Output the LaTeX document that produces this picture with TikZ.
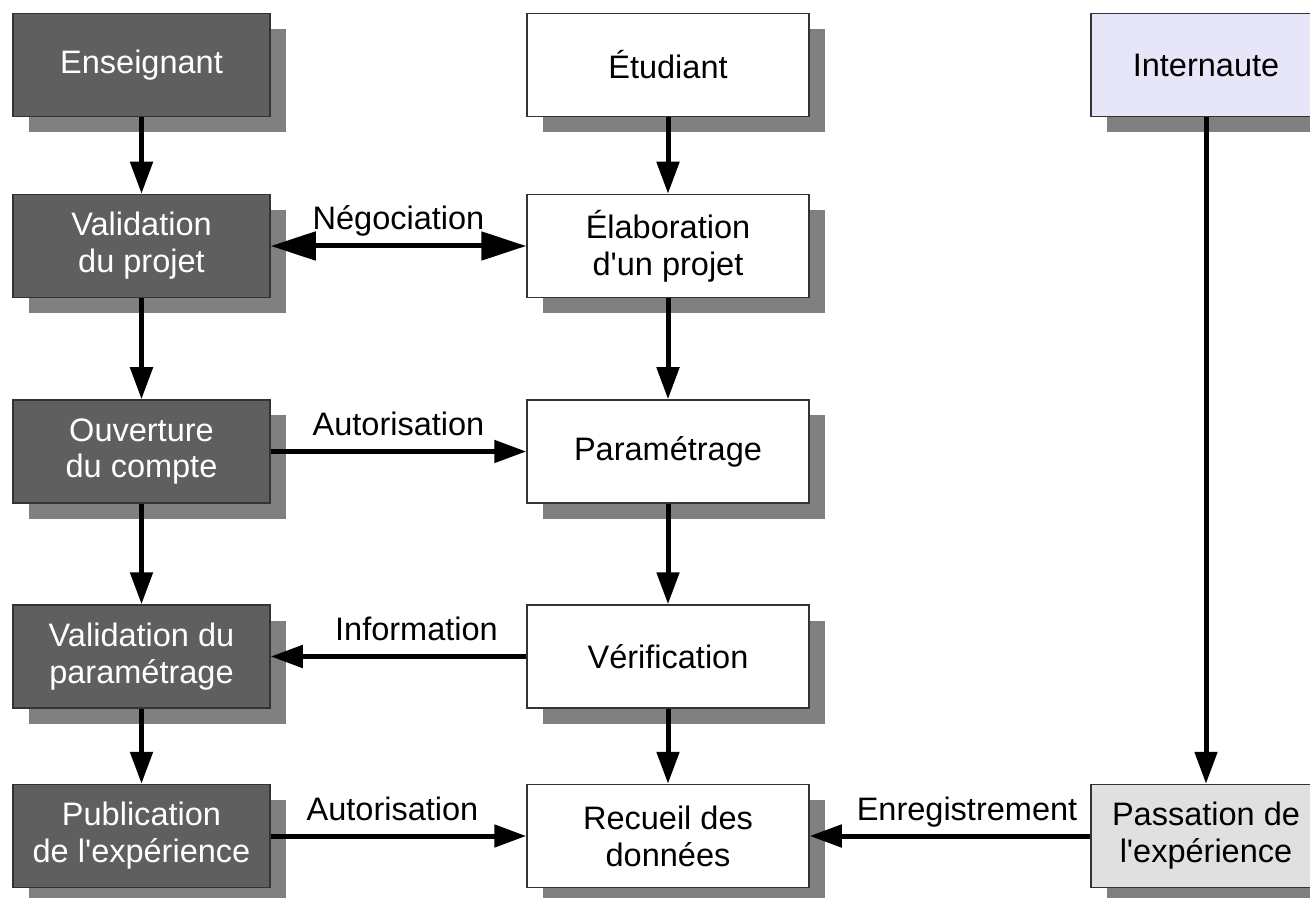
\documentclass[tikz,border=0pt]{standalone}
\usepackage{fontspec}
\setmainfont{Liberation Sans}
\usetikzlibrary{arrows.meta, shadows}
\definecolor{profgray}{HTML}{5F5F5F}
\definecolor{shadowgray}{HTML}{808080}
\definecolor{boxline}{HTML}{333333}
\definecolor{netblue}{HTML}{E6E6F8}
\definecolor{passgray}{HTML}{E0E0E0}
\newcommand{\apos}{\textquotesingle}
\tikzset{
  box/.style = {draw=boxline, line width=0.03cm, minimum height=2.06cm, align=center,
    font=\fontsize{18.5}{21}\selectfont,
    drop shadow={shadow xshift=0.31cm, shadow yshift=-0.31cm, fill=shadowgray, opacity=1}},
  profbox/.style = {box, fill=profgray, text=white, minimum width=5.14cm},
  etubox/.style = {box, fill=white, minimum width=5.64cm},
  netbox/.style = {box, minimum width=4.6cm},
  flow/.style = {line width=0.1cm, -{Triangle[length=0.64cm, width=0.44cm]}},
  lbl/.style = {anchor=base, yshift=0.32cm, font=\fontsize{18.5}{21}\selectfont}
}

\begin{document}
\begin{tikzpicture}
\useasboundingbox (0,0) rectangle (26.2,-17.96);
\clip (0,0) rectangle (26.2,-17.96);
% enseignant
\node [profbox] (ens) at (2.83,-1.30) {Enseignant};
\node [profbox] (valproj) at (2.83,-4.92) {Validation\\du projet};
\node [profbox] (ouv) at (2.83,-9.03) {Ouverture\\du compte};
\node [profbox] (valparam) at (2.83,-13.13) {Validation du\\paramétrage};
\node [profbox] (pub) at (2.83,-16.72) {Publication\\de l\apos expérience};
% etudiant
\node [etubox] (etu) at (13.36,-1.30) {Étudiant};
\node [etubox] (elab) at (13.36,-4.92) {Élaboration\\d\apos un projet};
\node [etubox] (param) at (13.36,-9.03) {Paramétrage};
\node [etubox] (verif) at (13.36,-13.13) {Vérification};
\node [etubox] (recueil) at (13.36,-16.72) {Recueil des\\données};
% internaute
\node [netbox, fill=netblue] (inter) at (24.12,-1.30) {Internaute};
\node [netbox, fill=passgray] (pass) at (24.12,-16.72) {Passation de\\l\apos expérience};
% flows
\draw [flow] (ens) -- (valproj);
\draw [flow] (valproj) -- (ouv);
\draw [flow] (ouv) -- (valparam);
\draw [flow] (valparam) -- (pub);
\draw [flow] (etu) -- (elab);
\draw [flow] (elab) -- (param);
\draw [flow] (param) -- (verif);
\draw [flow] (verif) -- (recueil);
\draw [flow] (inter) -- (pass);
\draw [line width=0.1cm, {Triangle[length=0.9cm, width=0.56cm]}-{Triangle[length=0.9cm, width=0.56cm]}]
  (valproj) -- (elab) node [lbl, midway] (lblneg) {Négociation};
\draw [flow] (ouv) -- (param) node [lbl, midway] (lblaut) {Autorisation};
\draw [flow] (verif) -- (valparam) node [lbl, midway, xshift=0.36cm] (lblinfo) {Information};
\draw [flow] (pub) -- (recueil) node [lbl, midway, xshift=-0.12cm] (lblpub) {Autorisation};
\draw [flow] (pass) -- (recueil) node [lbl, midway, xshift=0.34cm] (lblenr) {Enregistrement};
\end{tikzpicture}
\end{document}
